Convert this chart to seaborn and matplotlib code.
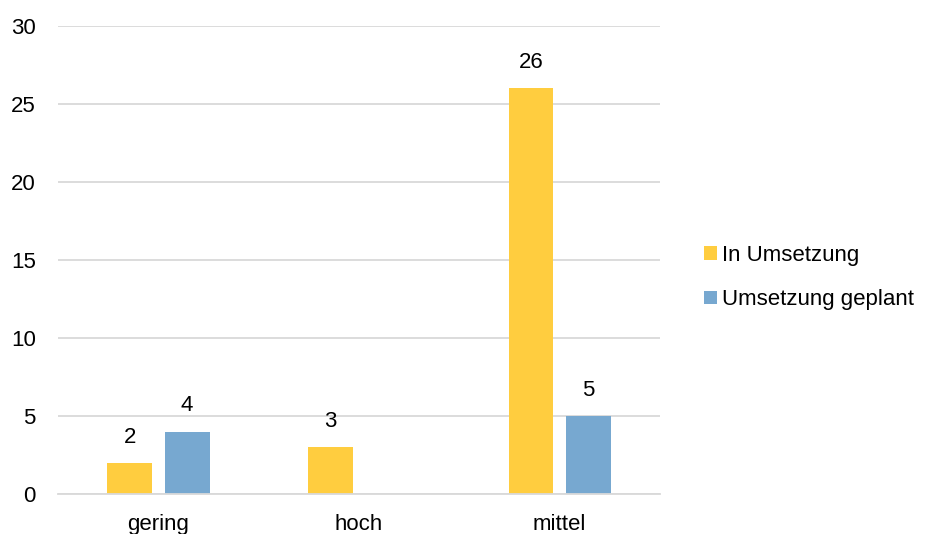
import numpy as np
import pandas as pd
import matplotlib
matplotlib.use("Agg")
import matplotlib.pyplot as plt
import seaborn as sns
from matplotlib.patches import Patch

categories = ["gering", "hoch", "mittel"]
series_names = ["In Umsetzung", "Umsetzung geplant"]
in_umsetzung = [2, 3, 26]
geplant = [4, 0, 5]
colors = ["#FFCD3F", "#77A8D0"]
yticks = [0, 5, 10, 15, 20, 25, 30]

df = pd.DataFrame({
    "Kategorie": categories * 2,
    "Serie": [series_names[0]] * 3 + [series_names[1]] * 3,
    "Wert": in_umsetzung + geplant,
})

sns.set_theme(style="white")
plt.rcParams["font.family"] = ["Liberation Sans", "DejaVu Sans"]
plt.rcParams["text.color"] = "#000000"
plt.rcParams["xtick.color"] = "#000000"
plt.rcParams["ytick.color"] = "#000000"

fig = plt.figure(figsize=(9.3, 5.34), dpi=100)
ax = fig.add_axes([0.0624, 0.0749, 0.6473, 0.8764])

sns.barplot(data=df, x="Kategorie", y="Wert", hue="Serie", order=categories,
            hue_order=series_names, palette=colors, width=0.572, gap=0.217,
            saturation=1, linewidth=0, ax=ax, legend=False)

for cont, vals in zip(ax.containers, [in_umsetzung, geplant]):
    labels = ["" if v == 0 else f"{int(v)}" for v in vals]
    ax.bar_label(cont, labels=labels, padding=11, fontsize=16, color="#000000")

ax.set_ylim(0, 30)
ax.set_xlim(-0.5, 2.5)
ax.set_yticks(yticks)
ax.set_yticklabels([str(t) for t in yticks], fontsize=16)
ax.yaxis.grid(True, color="#D9D9D9", linewidth=1.3)
ax.set_axisbelow(True)
for s in ["left", "right", "top"]:
    ax.spines[s].set_visible(False)
ax.spines["bottom"].set_color("#D9D9D9")
ax.spines["bottom"].set_linewidth(1.3)
ax.tick_params(axis="y", length=0, pad=16)
ax.tick_params(axis="x", length=0, pad=14.5, labelsize=16)
ax.set_xlabel("")
ax.set_ylabel("")

handles = [Patch(facecolor=c, edgecolor="none") for c in colors]
fig.legend(handles, series_names, loc="center left", bbox_to_anchor=(0.736, 0.48),
           frameon=False, fontsize=16, handlelength=0.55, handleheight=0.55,
           handletextpad=0.25, labelspacing=1.05)

fig.savefig("out.png", dpi=100)
